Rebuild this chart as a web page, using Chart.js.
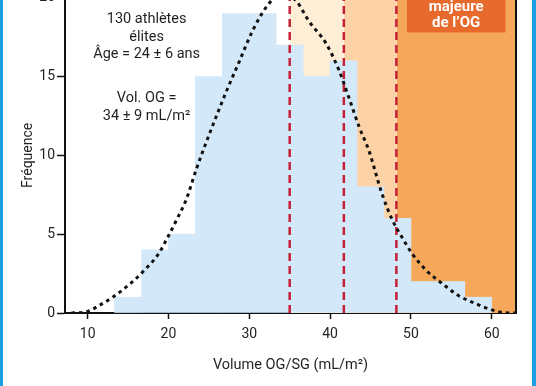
<!DOCTYPE html>
<html>
<head>
<meta charset="utf-8">
<script src="https://cdn.jsdelivr.net/npm/chart.js@4.4.1/dist/chart.umd.min.js"></script>
<style>
html, body { margin: 0; padding: 0; background: #fff; }
#frame { position: relative; width: 536px; height: 386px; overflow: hidden; background: #fff; }
#wrap { position: absolute; left: 0; top: -29px; width: 536px; height: 415px; }
.edge { position: absolute; top: 0; height: 386px; background: #1a9fe0; }
</style>
</head>
<body>
<div id="frame">
    <div id="wrap"><canvas id="chart" width="536" height="415"></canvas></div>
    <div class="edge" style="left:0;width:3px"></div>
    <div class="edge" style="right:0;width:4px"></div>
</div>
<script>
// histogram bins (mL/m²) and athlete counts
const binEdges = [13.33, 16.67, 20, 23.33, 26.67, 30, 33.33, 36.67, 40, 43.33, 46.67, 50, 53.33, 56.67, 60];
const counts = [1, 4, 5, 15, 19, 19, 17, 15, 16, 8, 6, 2, 2, 1];

// fitted normal curve
const curveX = [8, 10, 11.5, 13.1, 15.6, 16.8, 18.7, 19.9, 21.0, 22.2, 23.5, 25.1, 27.2, 28.8, 30.4, 32.1, 34, 35.8, 37.4, 39.5, 41.1, 42.3, 43.6, 44.8, 46.4, 47.7, 48.9, 50.1, 51.9, 53.8, 55.9, 58, 60, 62.1, 63];
const curveY = [0, 0.1, 0.5, 1.0, 2.0, 2.6, 3.7, 4.8, 5.9, 7.2, 9.2, 11.4, 14.1, 16.0, 17.9, 19.4, 20.3, 19.8, 18.5, 17.1, 15.4, 13.7, 11.8, 10.3, 7.6, 5.9, 4.8, 3.8, 2.7, 1.9, 1.1, 0.6, 0.2, 0, 0];

// dilatation thresholds (red dashed lines)
const cutoffs = [35, 41.7, 48.2];

const xTicks = [10, 20, 30, 40, 50, 60];
const yTicks = [0, 5, 10, 15, 20];
const xMin = 7.2, xMax = 63;
const yMin = 0, yMax = 21;

const infoLines = ["130 athlètes", "élites", "Âge = 24 ± 6 ans"];
const volLines = ["Vol. OG =", "34 ± 9 mL/m²"];
const boxLines = ["Dilatation", "majeure", "de l’OG"];

const textColor = "#231f20";
const fontFamily = "Roboto, 'Open Sans', sans-serif";

const barPoints = counts.map((c, i) => ({ x: (binEdges[i] + binEdges[i + 1]) / 2, y: c }));
const curvePoints = curveX.map((x, i) => ({ x: x, y: curveY[i] }));

function zone(from, to, color) {
    return {
        type: "line",
        data: [{ x: from, y: yMax }, { x: to, y: yMax }],
        fill: "origin",
        backgroundColor: color,
        borderWidth: 0,
        pointRadius: 0,
        order: 10
    };
}

function cutLine(x) {
    return {
        type: "line",
        data: [{ x: x, y: yMin }, { x: x, y: yMax }],
        borderColor: "#c42038",
        borderWidth: 2.5,
        borderDash: [8, 5],
        pointRadius: 0,
        fill: false,
        order: 2
    };
}

const extras = {
    id: "extras",
    afterDatasetsDraw(chart) {
        const ctx = chart.ctx;
        const xs = chart.scales.x;
        const ys = chart.scales.y;
        const area = chart.chartArea;
        ctx.save();

        // right frame line
        ctx.strokeStyle = "#111";
        ctx.lineWidth = 2;
        ctx.beginPath();
        ctx.moveTo(area.right, area.top);
        ctx.lineTo(area.right, area.bottom);
        ctx.stroke();

        // orange label box
        const bx1 = xs.getPixelForValue(49.5);
        const bx2 = xs.getPixelForValue(61.7);
        const by2 = ys.getPixelForValue(17.8);
        ctx.fillStyle = "#e8692c";
        ctx.fillRect(bx1, area.top, bx2 - bx1, by2 - area.top);
        ctx.fillStyle = "#fff";
        ctx.font = "bold 15px " + fontFamily;
        ctx.textAlign = "center";
        ctx.textBaseline = "middle";
        const lastY = ys.getPixelForValue(18.4);
        boxLines.forEach((t, i) => {
            ctx.fillText(t, (bx1 + bx2) / 2, lastY - (boxLines.length - 1 - i) * 16);
        });

        // annotation text
        ctx.fillStyle = textColor;
        ctx.font = "14.5px " + fontFamily;
        const tx = xs.getPixelForValue(17.3);
        const infoY = [18.6, 17.5, 16.4];
        infoLines.forEach((t, i) => ctx.fillText(t, tx, ys.getPixelForValue(infoY[i])));
        const volY = [13.6, 12.5];
        volLines.forEach((t, i) => ctx.fillText(t, tx, ys.getPixelForValue(volY[i])));

        // y axis title
        ctx.font = "14px " + fontFamily;
        ctx.translate(28, ys.getPixelForValue(10));
        ctx.rotate(-Math.PI / 2);
        ctx.fillText("Fréquence", 0, 0);
        ctx.restore();
    }
};

new Chart(document.getElementById("chart"), {
    type: "bar",
    data: {
        datasets: [
            zone(cutoffs[0], cutoffs[1], "#feeed6"),
            zone(cutoffs[1], cutoffs[2], "#fcd2a6"),
            zone(cutoffs[2], xMax, "#f6a85a"),
            {
                type: "bar",
                data: barPoints,
                backgroundColor: "#d3e8f8",
                borderWidth: 0,
                barPercentage: 1,
                categoryPercentage: 1,
                order: 5
            },
            cutLine(cutoffs[0]),
            cutLine(cutoffs[1]),
            cutLine(cutoffs[2]),
            {
                type: "line",
                data: curvePoints,
                borderColor: "#111",
                borderWidth: 3,
                borderDash: [3.5, 4],
                cubicInterpolationMode: "monotone",
                pointRadius: 0,
                fill: false,
                order: 1
            }
        ]
    },
    options: {
        responsive: false,
        devicePixelRatio: 1,
        animation: false,
        layout: { padding: { top: 11, right: 20, left: 0, bottom: 0 } },
        plugins: {
            legend: { display: false },
            tooltip: { enabled: false }
        },
        scales: {
            x: {
                type: "linear",
                min: xMin,
                max: xMax,
                offset: false,
                afterBuildTicks: s => { s.ticks = xTicks.map(v => ({ value: v })); },
                afterFit: s => { s.height = 73; },
                grid: { drawOnChartArea: false, offset: false, drawTicks: true, tickLength: 6, tickWidth: 1.5, color: "#111" },
                border: { color: "#111", width: 2 },
                ticks: { color: textColor, font: { family: fontFamily, size: 14 }, padding: 7, maxRotation: 0 },
                title: {
                    display: true,
                    text: "Volume OG/SG (mL/m²)",
                    color: textColor,
                    font: { family: fontFamily, size: 14.5 },
                    padding: { top: 0, bottom: 12 }
                }
            },
            y: {
                min: yMin,
                max: yMax,
                afterBuildTicks: s => { s.ticks = yTicks.map(v => ({ value: v })); },
                afterFit: s => { s.width = 65; },
                grid: { drawOnChartArea: false, drawTicks: true, tickLength: 8, tickWidth: 1.5, color: "#111" },
                border: { color: "#111", width: 2 },
                ticks: { color: textColor, font: { family: fontFamily, size: 14 }, padding: 2 }
            }
        }
    },
    plugins: [extras]
});
</script>
</body>
</html>
